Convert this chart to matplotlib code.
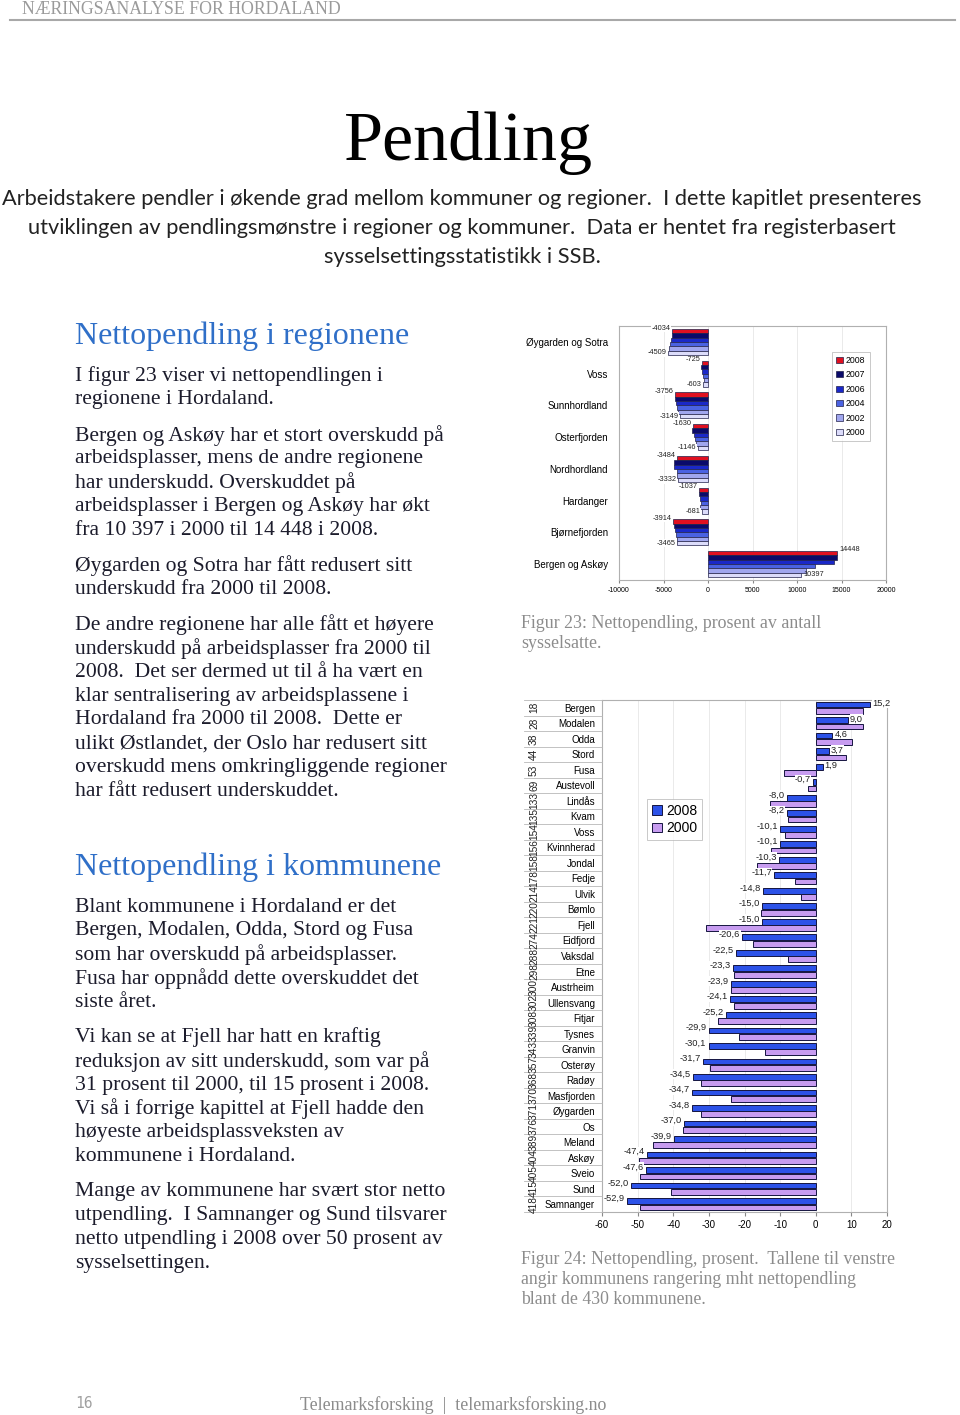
import numpy as np
import matplotlib
matplotlib.use('Agg')
import matplotlib.pyplot as plt
import matplotlib.transforms as mtransforms
from matplotlib.patches import Patch

# Figur 23: nettopendling per region (antall)
regions = ['Øygarden og Sotra', 'Voss', 'Sunnhordland', 'Osterfjorden',
           'Nordhordland', 'Hardanger', 'Bjørnefjorden', 'Bergen og Askøy']
years = ['2008', '2007', '2006', '2004', '2002', '2000']
reg_2008 = [-4034, -725, -3756, -1630, -3484, -1037, -3914, 14448]
reg_2007 = [-4100, -790, -3670, -1760, -3830, -1000, -3780, 14530]
reg_2006 = [-4200, -690, -3560, -1570, -3870, -900, -3670, 14160]
reg_2004 = [-4290, -560, -3450, -1420, -3530, -750, -3560, 12020]
reg_2002 = [-4400, -480, -3330, -1310, -3460, -930, -3480, 11000]
reg_2000 = [-4509, -603, -3149, -1146, -3332, -681, -3465, 10397]

# Figur 24: nettopendling per kommune (prosent)
kommuner = ['Bergen', 'Modalen', 'Odda', 'Stord', 'Fusa', 'Austevoll', 'Lindås',
            'Kvam', 'Voss', 'Kvinnherad', 'Jondal', 'Fedje', 'Ulvik', 'Bømlo',
            'Fjell', 'Eidfjord', 'Vaksdal', 'Etne', 'Austrheim', 'Ullensvang',
            'Fitjar', 'Tysnes', 'Granvin', 'Osterøy', 'Radøy', 'Masfjorden',
            'Øygarden', 'Os', 'Meland', 'Askøy', 'Sveio', 'Sund', 'Samnanger']
rang = [18, 28, 38, 44, 53, 69, 133, 135, 154, 156, 158, 178, 214, 220, 221,
        274, 288, 298, 300, 302, 308, 339, 343, 357, 368, 370, 371, 376, 389,
        404, 405, 415, 418]
kom_2008 = [15.2, 9.0, 4.6, 3.7, 1.9, -0.7, -8.0, -8.2, -10.1, -10.1, -10.3,
            -11.7, -14.8, -15.0, -15.0, -20.6, -22.5, -23.3, -23.9, -24.1,
            -25.2, -29.9, -30.1, -31.7, -34.5, -34.7, -34.8, -37.0, -39.9,
            -47.4, -47.6, -52.0, -52.9]
kom_2000 = [13.3, 13.3, 10.2, 8.6, -8.9, -2.1, -12.8, -7.7, -8.5, -12.5, -16.6,
            -5.8, -4.1, -15.3, -30.8, -17.5, -7.8, -22.9, -23.9, -22.9, -27.4,
            -21.5, -14.2, -29.8, -32.3, -23.9, -32.3, -37.3, -45.8, -49.5,
            -49.2, -40.6, -49.3]

# tekst
intro = ['Arbeidstakere pendler i økende grad mellom kommuner og regioner.  I dette kapitlet presenteres',
         'utviklingen av pendlingsmønstre i regioner og kommuner.  Data er hentet fra registerbasert',
         'sysselsettingsstatistikk i SSB.']
section1 = [
    ['I figur 23 viser vi nettopendlingen i', 'regionene i Hordaland.'],
    ['Bergen og Askøy har et stort overskudd på', 'arbeidsplasser, mens de andre regionene',
     'har underskudd. Overskuddet på', 'arbeidsplasser i Bergen og Askøy har økt',
     'fra 10 397 i 2000 til 14 448 i 2008.'],
    ['Øygarden og Sotra har fått redusert sitt', 'underskudd fra 2000 til 2008.'],
    ['De andre regionene har alle fått et høyere', 'underskudd på arbeidsplasser fra 2000 til',
     '2008.  Det ser dermed ut til å ha vært en', 'klar sentralisering av arbeidsplassene i',
     'Hordaland fra 2000 til 2008.  Dette er', 'ulikt Østlandet, der Oslo har redusert sitt',
     'overskudd mens omkringliggende regioner', 'har fått redusert underskuddet.'],
]
section2 = [
    ['Blant kommunene i Hordaland er det', 'Bergen, Modalen, Odda, Stord og Fusa',
     'som har overskudd på arbeidsplasser.', 'Fusa har oppnådd dette overskuddet det',
     'siste året.'],
    ['Vi kan se at Fjell har hatt en kraftig', 'reduksjon av sitt underskudd, som var på',
     '31 prosent til 2000, til 15 prosent i 2008.', 'Vi så i forrige kapittel at Fjell hadde den',
     'høyeste arbeidsplassveksten av', 'kommunene i Hordaland.'],
    ['Mange av kommunene har svært stor netto', 'utpendling.  I Samnanger og Sund tilsvarer',
     'netto utpendling i 2008 over 50 prosent av', 'sysselsettingen.'],
]

W, H = 960, 1415
fig = plt.figure(figsize=(W / 100, H / 100), dpi=100)
fig.patch.set_facecolor('white')

SERIF = 'Liberation Serif'
SANS = 'Liberation Sans'
BODY = '#1c1c2c'
BLUE_HEAD = '#2f6fc8'
GRAY = '#8c8c8c'


def P(x, y):
    return x / W, 1 - y / H


def axrect(x0, y0, x1, y1):
    return [x0 / W, 1 - y1 / H, (x1 - x0) / W, (y1 - y0) / H]


# header
fig.text(*P(22, 9), 'NÆRINGSANALYSE FOR HORDALAND', family=SERIF, size=12.8,
         color='#9a9a9a', va='center')
fig.add_artist(plt.Line2D([10 / W, 955 / W], [1 - 20 / H] * 2, color='#a8a8a8', lw=1.5))

fig.text(*P(469, 143), 'Pendling', family=SERIF, size=50.5, color='black',
         ha='center', va='center')
for i, line in enumerate(intro):
    fig.text(*P(462, 199 + i * 29), line, family='Lato', size=15.7, color='#222222',
             ha='center', va='center')


def paragraphs(paras, y, step=23.8, gap=11.5):
    for para in paras:
        for line in para:
            fig.text(*P(75, y), line, family=SERIF, size=15.6, color=BODY, va='center')
            y += step
        y += gap


fig.text(*P(75, 336), 'Nettopendling i regionene', family=SERIF, size=23,
         color=BLUE_HEAD, va='center')
paragraphs(section1, 376)
fig.text(*P(75, 867), 'Nettopendling i kommunene', family=SERIF, size=23,
         color=BLUE_HEAD, va='center')
paragraphs(section2, 907)

# captions
fig.text(*P(521, 623), 'Figur 23: Nettopendling, prosent av antall', family=SERIF,
         size=12.9, color=GRAY, va='center')
fig.text(*P(521, 643), 'sysselsatte.', family=SERIF, size=12.9, color=GRAY, va='center')
for i, line in enumerate(['Figur 24: Nettopendling, prosent.  Tallene til venstre',
                          'angir kommunens rangering mht nettopendling',
                          'blant de 430 kommunene.']):
    fig.text(*P(521, 1260 + i * 19.5), line, family=SERIF, size=12.8, color=GRAY, va='center')

# footer
fig.text(*P(75, 1403), '16', family='DejaVu Sans Mono', size=10.5, color='#a0a0a0', va='center')
fig.text(*P(453, 1405), 'Telemarksforsking  |  telemarksforsking.no', family=SERIF,
         size=12.9, color=GRAY, ha='center', va='center')

# ---------- Figur 23 ----------
ax1 = fig.add_axes(axrect(619, 326, 886, 580))
series = [reg_2008, reg_2007, reg_2006, reg_2004, reg_2002, reg_2000]
colors1 = ['#e01020', '#0a0a6a', '#1a28c8', '#4a62e2', '#a0a6ee', '#dcdcfa']
bh = 0.137
y = np.arange(len(regions))
top = -bh * 3
for k, (vals, col, yr) in enumerate(zip(series, colors1, years)):
    off = top + bh * (k + 0.5)
    ax1.barh(y + off, vals, height=bh, color=col, edgecolor='#20204a', lw=0.5,
             label=yr, zorder=3)
for i in range(len(regions)):
    for vals, off, va in [(reg_2008, top + bh * 0.5, 'bottom'),
                          (reg_2000, top + bh * 5.5, 'center')]:
        v = vals[i]
        if v < 0:
            ax1.text(v - 150, i + off + (0.02 if va == 'bottom' else 0), str(v), ha='right',
                     va=va, size=5.3, family=SANS, color='#222222', zorder=5,
                     bbox=dict(fc='white', ec='none', pad=0.2))
        else:
            ax1.text(v + 300, i + off, str(v), ha='left', va=va, size=5.3,
                     family=SANS, color='#222222', zorder=5)
ax1.set_xlim(-10000, 20000)
ax1.set_ylim(len(regions) - 0.5, -0.5)
ax1.set_xticks(range(-10000, 20001, 5000))
ax1.set_xticklabels([str(t) for t in range(-10000, 20001, 5000)], size=5, family=SANS)
ax1.set_yticks(y)
ax1.set_yticklabels(regions, size=7, family=SANS)
ax1.tick_params(axis='y', length=0, pad=8)
ax1.tick_params(axis='x', length=2, pad=3, color='#888888')
ax1.grid(axis='x', color='#e6e6e6', lw=0.6, zorder=0)
for s in ax1.spines.values():
    s.set_color('#b0b0b0')
    s.set_linewidth(0.8)
leg1 = ax1.legend(loc='upper right', bbox_to_anchor=(0.955, 0.915), prop={'family': SANS, 'size': 6.3},
                  frameon=True, fancybox=False, edgecolor='#b0b0b0', handlelength=0.7,
                  handleheight=0.7, labelspacing=0.62, borderpad=0.45, handletextpad=0.4)
leg1.get_frame().set_linewidth(0.6)

# ---------- Figur 24 ----------
ax2 = fig.add_axes(axrect(602, 700, 887, 1212))
yk = np.arange(len(kommuner))
bh2 = 0.37
blue = '#2c52e8'
purple = '#c79cf0'
ax2.barh(yk - bh2 / 2 - 0.02, kom_2008, height=bh2, color=blue, edgecolor='#151540',
         lw=0.7, label='2008', zorder=3)
ax2.barh(yk + bh2 / 2 + 0.02, kom_2000, height=bh2, color=purple, edgecolor='#151540',
         lw=0.7, label='2000', zorder=3)
for i, v in enumerate(kom_2008):
    lab = f'{v:.1f}'.replace('.', ',')
    if v >= 0:
        ax2.text(v + 0.6, i - 0.28, lab, ha='left', va='center', size=6.7, family=SANS,
                 color='#222222', zorder=5, bbox=dict(fc='white', ec='none', pad=0.3))
    else:
        ax2.text(v - 0.6, i - 0.38, lab, ha='right', va='center', size=6.7, family=SANS,
                 color='#222222', zorder=5, bbox=dict(fc='white', ec='none', pad=0.3))
ax2.set_xlim(-60, 20)
ax2.set_ylim(len(kommuner) - 0.5, -0.5)
ax2.set_xticks(range(-60, 21, 10))
ax2.set_xticklabels([str(t) for t in range(-60, 21, 10)], size=7, family=SANS)
ax2.set_yticks(yk)
ax2.set_yticklabels(kommuner, size=7, family=SANS)
ax2.tick_params(axis='y', length=0, pad=5)
ax2.tick_params(axis='x', length=3, pad=3, color='#888888')
ax2.grid(axis='x', color='#e6e6e6', lw=0.6, zorder=0)
for s in ax2.spines.values():
    s.set_color('#b0b0b0')
    s.set_linewidth(0.8)

# rangering-kolonne og radlinjer
trans = mtransforms.blended_transform_factory(fig.transFigure, ax2.transData)
x_left = 524 / W
x_right = 602 / W
for i, r in enumerate(rang):
    fig.text(534 / W, 0, str(r), transform=trans, rotation=90, size=7.3,
             family=SANS, color='#222222', ha='center', va='center').set_y(i)
for i in range(len(kommuner) + 1):
    fig.add_artist(plt.Line2D([x_left, x_right], [i - 0.5, i - 0.5], transform=trans,
                              color='#b8b8b8', lw=0.6))

leg2 = fig.legend(handles=[Patch(fc=blue, ec='#151540', lw=0.7, label='2008'),
                           Patch(fc=purple, ec='#151540', lw=0.7, label='2000')],
                  loc='upper left', bbox_to_anchor=(640 / W, 1 - 792 / H),
                  prop={'family': SANS, 'size': 10}, frameon=True, fancybox=False,
                  edgecolor='#b0b0b0', handlelength=0.7, handleheight=0.7,
                  labelspacing=0.25, borderpad=0.35, handletextpad=0.35)
leg2.get_frame().set_linewidth(0.6)

fig.savefig('out.png', dpi=100)
